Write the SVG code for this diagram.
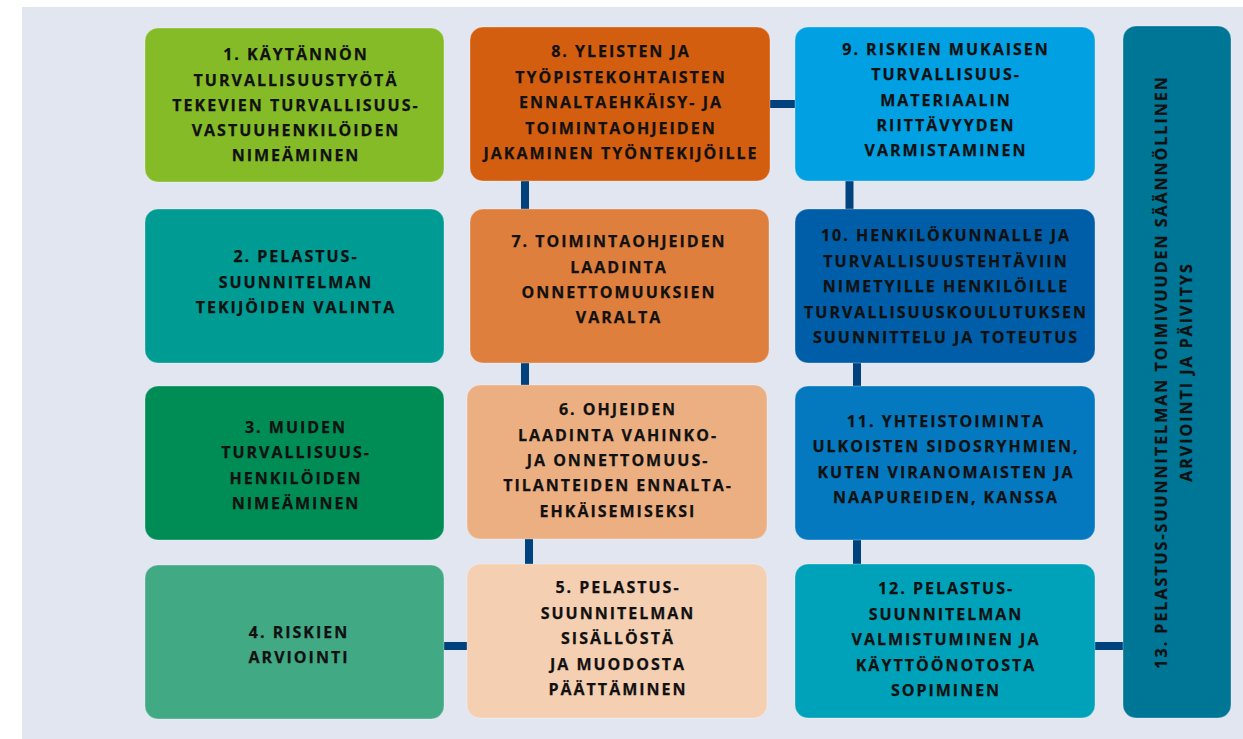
<svg xmlns="http://www.w3.org/2000/svg" width="1243" height="739" viewBox="0 0 1243 739">
<style>
.n{stroke:#ffffff;stroke-opacity:0.3;stroke-width:1}
.t{font-family:"Open Sans","Noto Sans","DejaVu Sans",sans-serif;font-weight:700;font-size:16px;letter-spacing:2px;fill:#111111;stroke:#111111;stroke-width:0.25;text-anchor:middle}
.c{stroke:#00427d;stroke-width:8;fill:none}
</style>
<rect x="0" y="0" width="1243" height="739" fill="#ffffff"/>
<rect x="22" y="7" width="1221" height="732" fill="#e2e6f1"/>
<g id="connectors">
<line class="c" x1="444" y1="646" x2="468" y2="646"/>
<line class="c" x1="529" y1="539" x2="529" y2="565"/>
<line class="c" x1="525" y1="362" x2="525" y2="386"/>
<line class="c" x1="525" y1="180" x2="525" y2="210"/>
<line class="c" x1="769" y1="104" x2="796" y2="104"/>
<line class="c" x1="849.5" y1="180" x2="849.5" y2="210"/>
<line class="c" x1="857" y1="362" x2="857" y2="387"/>
<line class="c" x1="857" y1="539" x2="857" y2="565"/>
<line class="c" x1="1094" y1="646" x2="1124" y2="646"/>
</g>
<g id="node1">
<rect class="n" x="145" y="28" width="299" height="154" rx="13" fill="#85bb27"/>
<text class="t" x="296" y="60">1. KÄYTÄNNÖN</text>
<text class="t" x="296" y="85.5">TURVALLISUUSTYÖTÄ</text>
<text class="t" x="296" y="110.5">TEKEVIEN TURVALLISUUS-</text>
<text class="t" x="296" y="136">VASTUUHENKILÖIDEN</text>
<text class="t" x="296" y="161">NIMEÄMINEN</text>
</g>
<g id="node2">
<rect class="n" x="145" y="209" width="299" height="154" rx="13" fill="#009b93"/>
<text class="t" x="296" y="262">2. PELASTUS-</text>
<text class="t" x="296" y="287.5">SUUNNITELMAN</text>
<text class="t" x="296" y="313">TEKIJÖIDEN VALINTA</text>
</g>
<g id="node3">
<rect class="n" x="145" y="386" width="299" height="154" rx="13" fill="#008d55"/>
<text class="t" x="296" y="433">3. MUIDEN</text>
<text class="t" x="296" y="458">TURVALLISUUS-</text>
<text class="t" x="296" y="483.5">HENKILÖIDEN</text>
<text class="t" x="296" y="509">NIMEÄMINEN</text>
</g>
<g id="node4">
<rect class="n" x="145" y="565" width="299" height="154" rx="13" fill="#42a985"/>
<text class="t" x="299" y="638">4. RISKIEN</text>
<text class="t" x="299" y="663">ARVIOINTI</text>
</g>
<g id="node5">
<rect class="n" x="467" y="564" width="300" height="154" rx="13" fill="#f5cfb1"/>
<text class="t" x="618" y="593">5. PELASTUS-</text>
<text class="t" x="618" y="619">SUUNNITELMAN</text>
<text class="t" x="618" y="644">SISÄLLÖSTÄ</text>
<text class="t" x="618" y="670">JA MUODOSTA</text>
<text class="t" x="618" y="695">PÄÄTTÄMINEN</text>
</g>
<g id="node6">
<rect class="n" x="467" y="385" width="300" height="154" rx="13" fill="#ecaf82"/>
<text class="t" x="618" y="415">6. OHJEIDEN</text>
<text class="t" x="618" y="441">LAADINTA VAHINKO-</text>
<text class="t" x="618" y="466">JA ONNETTOMUUS-</text>
<text class="t" x="618" y="491">TILANTEIDEN ENNALTA-</text>
<text class="t" x="618" y="517">EHKÄISEMISEKSI</text>
</g>
<g id="node7">
<rect class="n" x="470" y="209" width="299" height="154" rx="13" fill="#df7f3d"/>
<text class="t" x="619" y="247">7. TOIMINTAOHJEIDEN</text>
<text class="t" x="619" y="272.5">LAADINTA</text>
<text class="t" x="619" y="298">ONNETTOMUUKSIEN</text>
<text class="t" x="619" y="323">VARALTA</text>
</g>
<g id="node8">
<rect class="n" x="470" y="27" width="300" height="154" rx="13" fill="#d45e0f"/>
<text class="t" x="621" y="57">8. YLEISTEN JA</text>
<text class="t" x="621" y="82.5">TYÖPISTEKOHTAISTEN</text>
<text class="t" x="621" y="108">ENNALTAEHKÄISY- JA</text>
<text class="t" x="621" y="133.5">TOIMINTAOHJEIDEN</text>
<text class="t" x="621" y="159">JAKAMINEN TYÖNTEKIJÖILLE</text>
</g>
<g id="node9">
<rect class="n" x="795" y="27" width="300" height="154" rx="13" fill="#00a0e3"/>
<text class="t" x="946" y="55">9. RISKIEN MUKAISEN</text>
<text class="t" x="946" y="80">TURVALLISUUS-</text>
<text class="t" x="946" y="105.5">MATERIAALIN</text>
<text class="t" x="946" y="131">RIITTÄVYYDEN</text>
<text class="t" x="946" y="156">VARMISTAMINEN</text>
</g>
<g id="node10">
<rect class="n" x="795" y="209" width="300" height="154" rx="13" fill="#005ea8"/>
<text class="t" x="946" y="241">10. HENKILÖKUNNALLE JA</text>
<text class="t" x="946" y="267">TURVALLISUUSTEHTÄVIIN</text>
<text class="t" x="946" y="292">NIMETYILLE HENKILÖILLE</text>
<text class="t" x="946" y="317.5">TURVALLISUUSKOULUTUKSEN</text>
<text class="t" x="946" y="343">SUUNNITTELU JA TOTEUTUS</text>
</g>
<g id="node11">
<rect class="n" x="795" y="386" width="300" height="154" rx="13" fill="#0479c0"/>
<text class="t" x="946" y="427">11. YHTEISTOIMINTA</text>
<text class="t" x="946" y="452">ULKOISTEN SIDOSRYHMIEN,</text>
<text class="t" x="946" y="477.5">KUTEN VIRANOMAISTEN JA</text>
<text class="t" x="946" y="503">NAAPUREIDEN, KANSSA</text>
</g>
<g id="node12">
<rect class="n" x="795" y="564" width="300" height="154" rx="13" fill="#00a2ba"/>
<text class="t" x="946" y="594">12. PELASTUS-</text>
<text class="t" x="946" y="620">SUUNNITELMAN</text>
<text class="t" x="946" y="645">VALMISTUMINEN JA</text>
<text class="t" x="946" y="671">KÄYTTÖÖNOTOSTA</text>
<text class="t" x="946" y="696">SOPIMINEN</text>
</g>
<g id="node13">
<rect class="n" x="1123" y="26" width="108" height="692" rx="13" fill="#007697"/>
<g transform="translate(1167,372) rotate(-90)">
<text class="t" x="0" y="0">13. PELASTUS-SUUNNITELMAN TOIMIVUUDEN SÄÄNNÖLLINEN</text>
<text class="t" x="0" y="25">ARVIOINTI JA PÄIVITYS</text>
</g>
</g>
</svg>
